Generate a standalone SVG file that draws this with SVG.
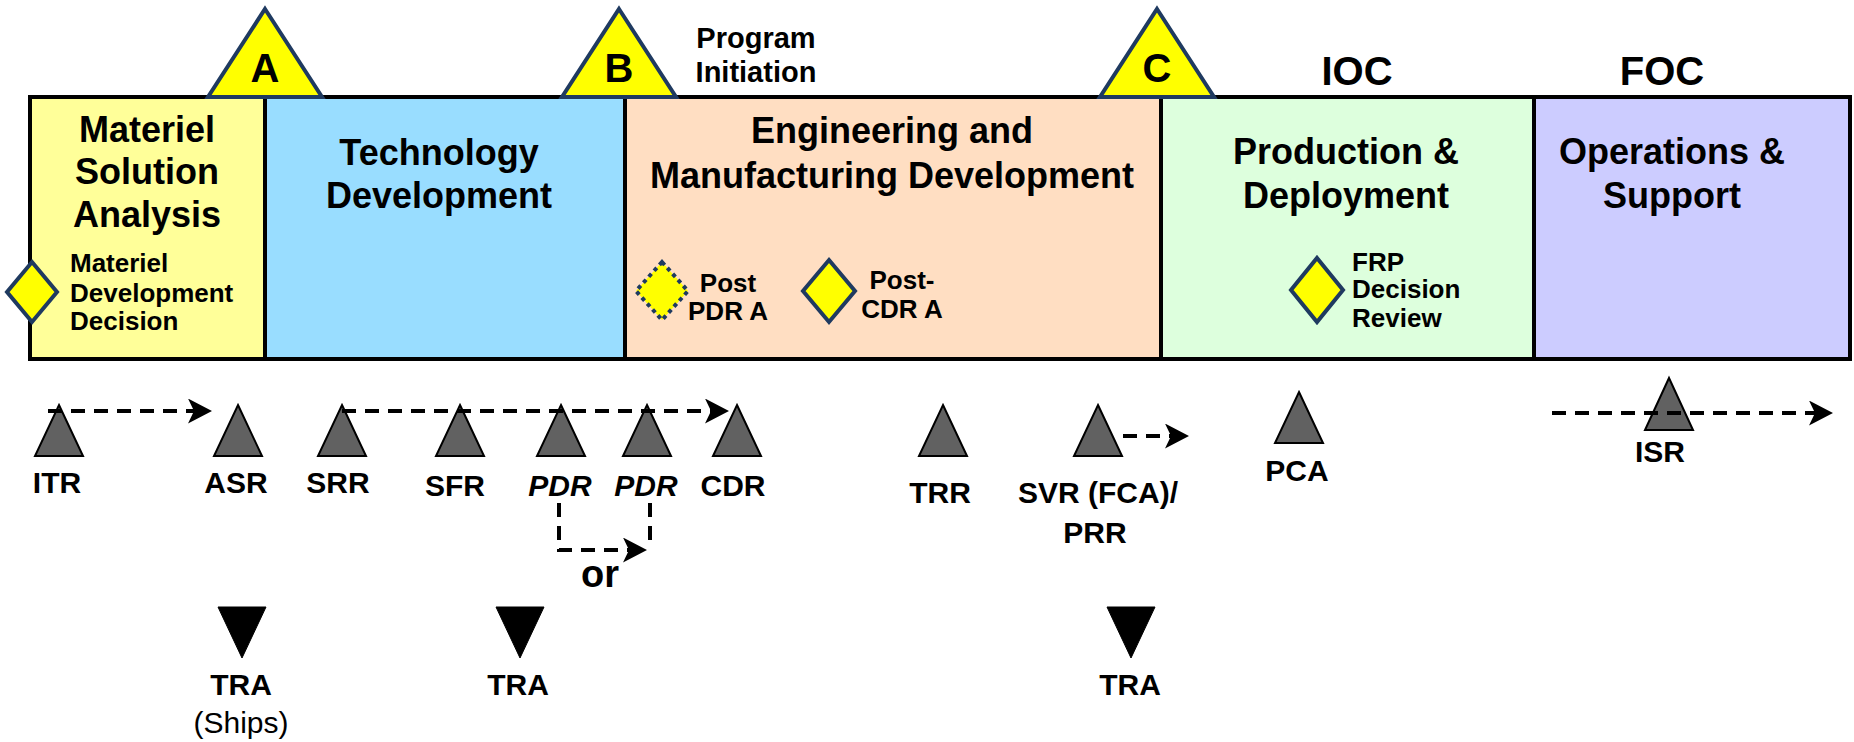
<svg xmlns="http://www.w3.org/2000/svg" width="1854" height="742" viewBox="0 0 1854 742">
<defs>
<style>
text{font-family:"Liberation Sans",Arial,sans-serif;font-weight:bold;fill:#000}
.ph{font-size:36px;text-anchor:middle}
.sm{font-size:26px}
.lb{font-size:30px;text-anchor:middle}
.gate{fill:#FFFF00;stroke:#1F3A60;stroke-width:4;stroke-linejoin:miter}
.dia{fill:#FFFF00;stroke:#1F3A60;stroke-width:4}
.dot{fill:#FFFF00;stroke:#1F3A60;stroke-width:4;stroke-dasharray:4 4}
.ms{fill:#616161;stroke:#000;stroke-width:2}
.tra{fill:#000;stroke:#000;stroke-width:1}
.dash{fill:none;stroke:#000;stroke-width:4;stroke-dasharray:14 9}
.panel{stroke:#000;stroke-width:4}
</style>
<marker id="arr" markerUnits="userSpaceOnUse" markerWidth="26" markerHeight="26" refX="14" refY="12.5" orient="auto" viewBox="0 0 26 26">
<path d="M0,0 L24,12.5 L0,25 L6,12.5 Z" fill="#000"/>
</marker>
</defs>
<g id="phase-msa"><rect class="panel" x="30" y="97" width="235" height="262" fill="#FFFF99"/>
<text class="ph" x="147" y="142">Materiel</text><text class="ph" x="147" y="184">Solution</text><text class="ph" x="147" y="227">Analysis</text></g>
<g id="phase-td"><rect class="panel" x="265" y="97" width="360" height="262" fill="#99DDFF"/>
<text class="ph" x="439" y="165">Technology</text><text class="ph" x="439" y="208">Development</text></g>
<g id="phase-emd"><rect class="panel" x="625" y="97" width="536" height="262" fill="#FFDEC2"/>
<text class="ph" x="892" y="143">Engineering and</text><text class="ph" x="892" y="188">Manufacturing Development</text></g>
<g id="phase-pd"><rect class="panel" x="1161" y="97" width="373" height="262" fill="#DDFFDD"/>
<text class="ph" x="1346" y="164">Production &amp;</text><text class="ph" x="1346" y="208">Deployment</text></g>
<g id="phase-os"><rect class="panel" x="1534" y="97" width="316" height="262" fill="#CCCCFF"/>
<text class="ph" x="1672" y="164">Operations &amp;</text><text class="ph" x="1672" y="208">Support</text></g>
<g id="ms-a"><polygon class="gate" points="265,9 322,97 208,97"/><text x="265" y="82" font-size="40" text-anchor="middle">A</text></g>
<g id="ms-b"><polygon class="gate" points="619,9 676,97 562,97"/><text x="619" y="82" font-size="40" text-anchor="middle">B</text></g>
<g id="ms-c"><polygon class="gate" points="1157,9 1214,97 1100,97"/><text x="1157" y="82" font-size="40" text-anchor="middle">C</text></g>
<g id="program-initiation"><text x="756" y="48" font-size="29" text-anchor="middle">Program</text><text x="756" y="82" font-size="29" text-anchor="middle">Initiation</text></g>
<g id="ioc"><text x="1357" y="85" font-size="40" text-anchor="middle">IOC</text></g>
<g id="foc"><text x="1662" y="85" font-size="40" text-anchor="middle">FOC</text></g>
<g id="mdd"><polygon class="dia" points="32,262 57,292 32,322 7,292"/>
<text class="sm" x="70" y="272">Materiel</text><text class="sm" x="70" y="302">Development</text><text class="sm" x="70" y="330">Decision</text></g>
<g id="post-pdr"><polygon class="dot" points="662,262 688,291 662,320 636,291"/>
<text class="sm" x="728" y="292" text-anchor="middle">Post</text><text class="sm" x="728" y="320" text-anchor="middle">PDR A</text></g>
<g id="post-cdr"><polygon class="dia" points="829,260 855,291 829,322 803,291"/>
<text class="sm" x="902" y="289" text-anchor="middle">Post-</text><text class="sm" x="902" y="318" text-anchor="middle">CDR A</text></g>
<g id="frp"><polygon class="dia" points="1317,258 1343,290 1317,322 1291,290"/>
<text class="sm" x="1352" y="271">FRP</text><text class="sm" x="1352" y="298">Decision</text><text class="sm" x="1352" y="327">Review</text></g>
<g id="itr"><polygon class="ms" points="59,405 83,456 35,456"/><text class="lb" x="57" y="493">ITR</text></g>
<g id="asr"><polygon class="ms" points="238,405 262,456 214,456"/><text class="lb" x="236" y="493">ASR</text></g>
<g id="srr"><polygon class="ms" points="342,405 366,456 318,456"/><text class="lb" x="338" y="493">SRR</text></g>
<g id="sfr"><polygon class="ms" points="460,405 484,456 436,456"/><text class="lb" x="455" y="496">SFR</text></g>
<g id="pdr1"><polygon class="ms" points="561,405 585,456 537,456"/><text class="lb" x="560" y="496" font-style="italic">PDR</text></g>
<g id="pdr2"><polygon class="ms" points="647,405 671,456 623,456"/><text class="lb" x="646" y="496" font-style="italic">PDR</text></g>
<g id="cdr"><polygon class="ms" points="737,405 761,456 713,456"/><text class="lb" x="733" y="496">CDR</text></g>
<g id="trr"><polygon class="ms" points="943,405 967,456 919,456"/><text class="lb" x="940" y="503">TRR</text></g>
<g id="svr"><polygon class="ms" points="1098,405 1122,456 1074,456"/><text class="lb" x="1098" y="503">SVR (FCA)/</text><text class="lb" x="1095" y="543">PRR</text></g>
<g id="pca"><polygon class="ms" points="1299,392 1323,443 1275,443"/><text class="lb" x="1297" y="481">PCA</text></g>
<g id="isr"><polygon class="ms" points="1669,378 1693,430 1645,430"/><text class="lb" x="1660" y="462">ISR</text></g>
<g id="or-label"><text x="600" y="587" font-size="38" text-anchor="middle">or</text></g>
<g id="tra1"><polygon class="tra" points="218,607 266,607 242,658"/><text class="lb" x="241" y="695">TRA</text>
<text x="241" y="733" font-size="30" font-weight="normal" text-anchor="middle" style="font-weight:normal">(Ships)</text></g>
<g id="tra2"><polygon class="tra" points="496,607 544,607 520,658"/><text class="lb" x="518" y="695">TRA</text></g>
<g id="tra3"><polygon class="tra" points="1107,607 1155,607 1131,658"/><text class="lb" x="1130" y="695">TRA</text></g>
<g id="connectors">
<path class="dash" d="M48,411 H202" marker-end="url(#arr)"/>
<path class="dash" d="M342,411 H719" marker-end="url(#arr)"/>
<path class="dash" d="M559,503 V550 H637" marker-end="url(#arr)"/>
<path class="dash" d="M650,503 V545"/>
<path class="dash" d="M1123,436 H1179" stroke-dasharray="14 8" marker-end="url(#arr)"/>
<path class="dash" d="M1552,413 H1823" marker-end="url(#arr)"/>
</g>
</svg>
